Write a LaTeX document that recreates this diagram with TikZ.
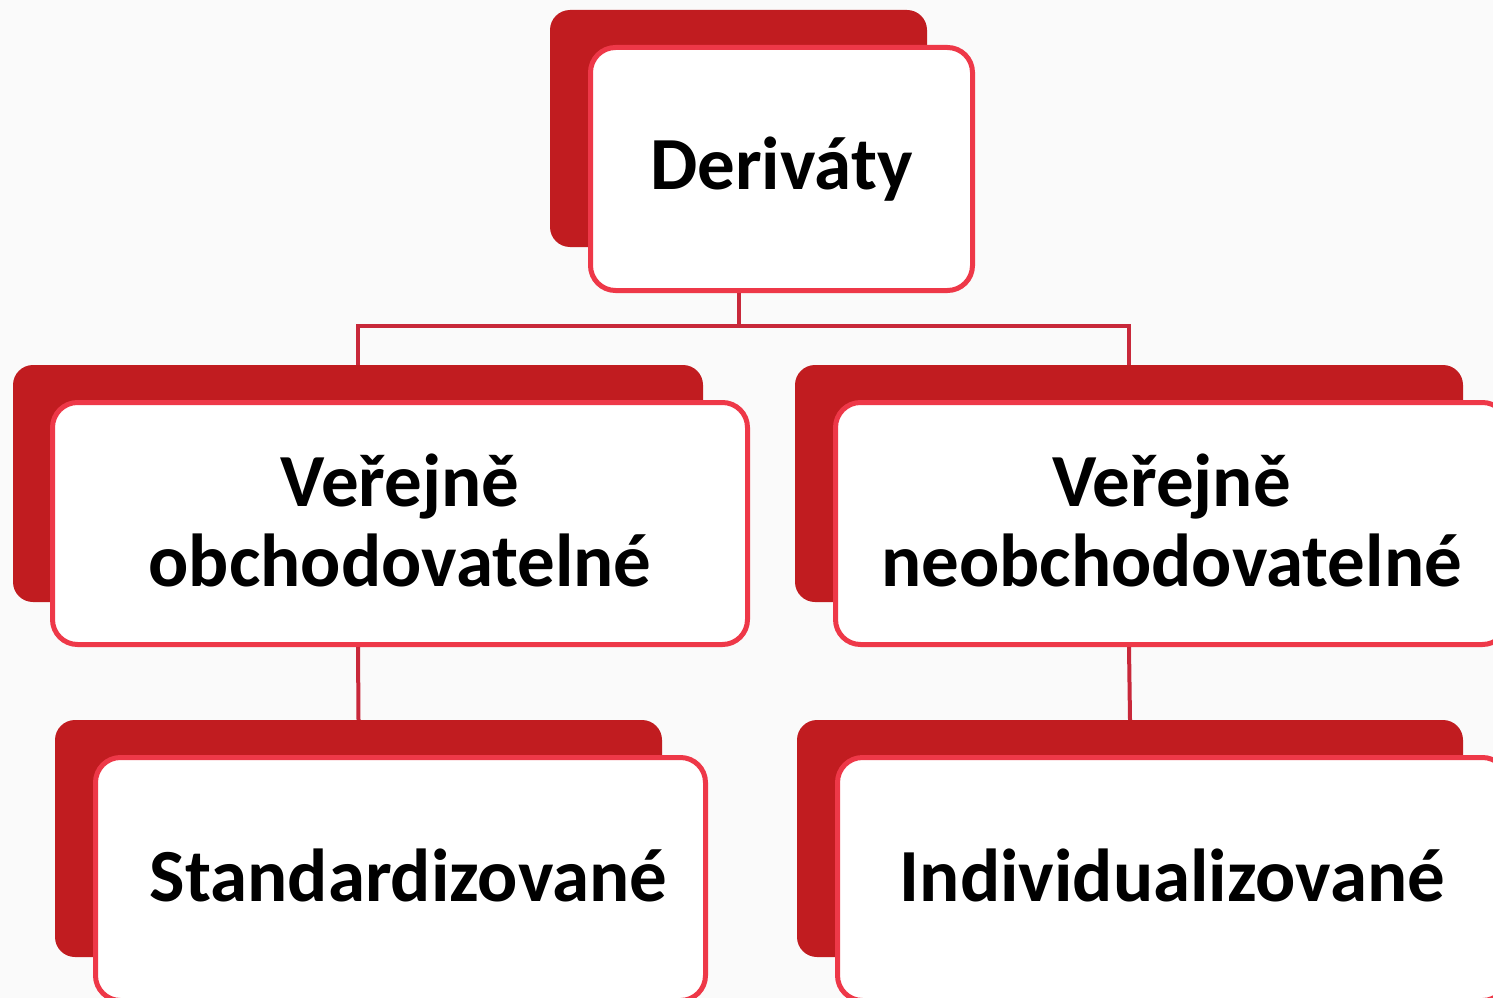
\documentclass[tikz,border=0pt]{standalone}
\usepackage{fontspec}
\setmainfont{Carlito}
\definecolor{backred}{RGB}{193,28,32}
\definecolor{edgered}{RGB}{238,56,72}
\definecolor{linered}{RGB}{200,40,58}
\definecolor{bggray}{RGB}{250,250,250}
\begin{document}
\begin{tikzpicture}[x=1pt,y=-1pt,
  backbox/.style={draw=none,fill=backred,rounded corners=20pt,inner sep=0pt,minimum height=237pt},
  frontbox/.style={draw=edgered,line width=5pt,fill=white,rounded corners=25pt,inner sep=0pt,
     minimum height=242pt},
  lbl/.style={inner sep=0pt,align=center,font=\fontsize{75}{80}\selectfont\bfseries},
  conn/.style={draw=linered,line width=4pt}]
\useasboundingbox (0,0) rectangle (1493,998);
\clip (0,0) rectangle (1493,998);
\fill[bggray] (0,0) rectangle (1493,998);
% top
\node[backbox,minimum width=377pt] (tb) at (738.5,128.5) {};
\node[frontbox,minimum width=382pt,minimum height=243pt] (tf) at (781.5,169) {};
\node[lbl] (tt) at (tf.center) {Deriváty};
% middle left
\node[backbox,minimum width=690pt] (mlb) at (358,483.5) {};
\node[frontbox,minimum width=695pt] (mlf) at (400,523.5) {};
\node[lbl] (mlt) at ([yshift=3pt]mlf.center) {Veřejně\\obchodovatelné};
% middle right
\node[backbox,minimum width=668pt] (mrb) at (1129,483.5) {};
\node[frontbox,minimum width=672pt] (mrf) at (1171.5,523.5) {};
\node[lbl] (mrt) at ([yshift=3pt]mrf.center) {Veřejně\\neobchodovatelné};
% bottom left
\node[backbox,minimum width=607pt] (blb) at (358.5,838.5) {};
\node[frontbox,minimum width=610pt,minimum height=243pt] (blf) at (400.5,879) {};
\node[lbl] (blt) at ([xshift=8pt,yshift=4pt]blf.center) {Standardizované};
% bottom right
\node[backbox,minimum width=666pt] (brb) at (1130,838.5) {};
\node[frontbox,minimum width=670pt,minimum height=243pt] (brf) at (1172.5,879) {};
\node[lbl] (brt) at ([yshift=4pt]brf.center) {Individualizované};
% connectors
\coordinate (bus) at (738.5,326);
\draw[conn] (tb.south |- tf.south) -- (bus) -| (mlb.north);
\draw[conn] (bus) -| (mrb.north);
\draw[conn] (mlb.south |- mlf.south) -- (blb.north);
\draw[conn] (mrb.south |- mrf.south) -- (brb.north);
\end{tikzpicture}
\end{document}
